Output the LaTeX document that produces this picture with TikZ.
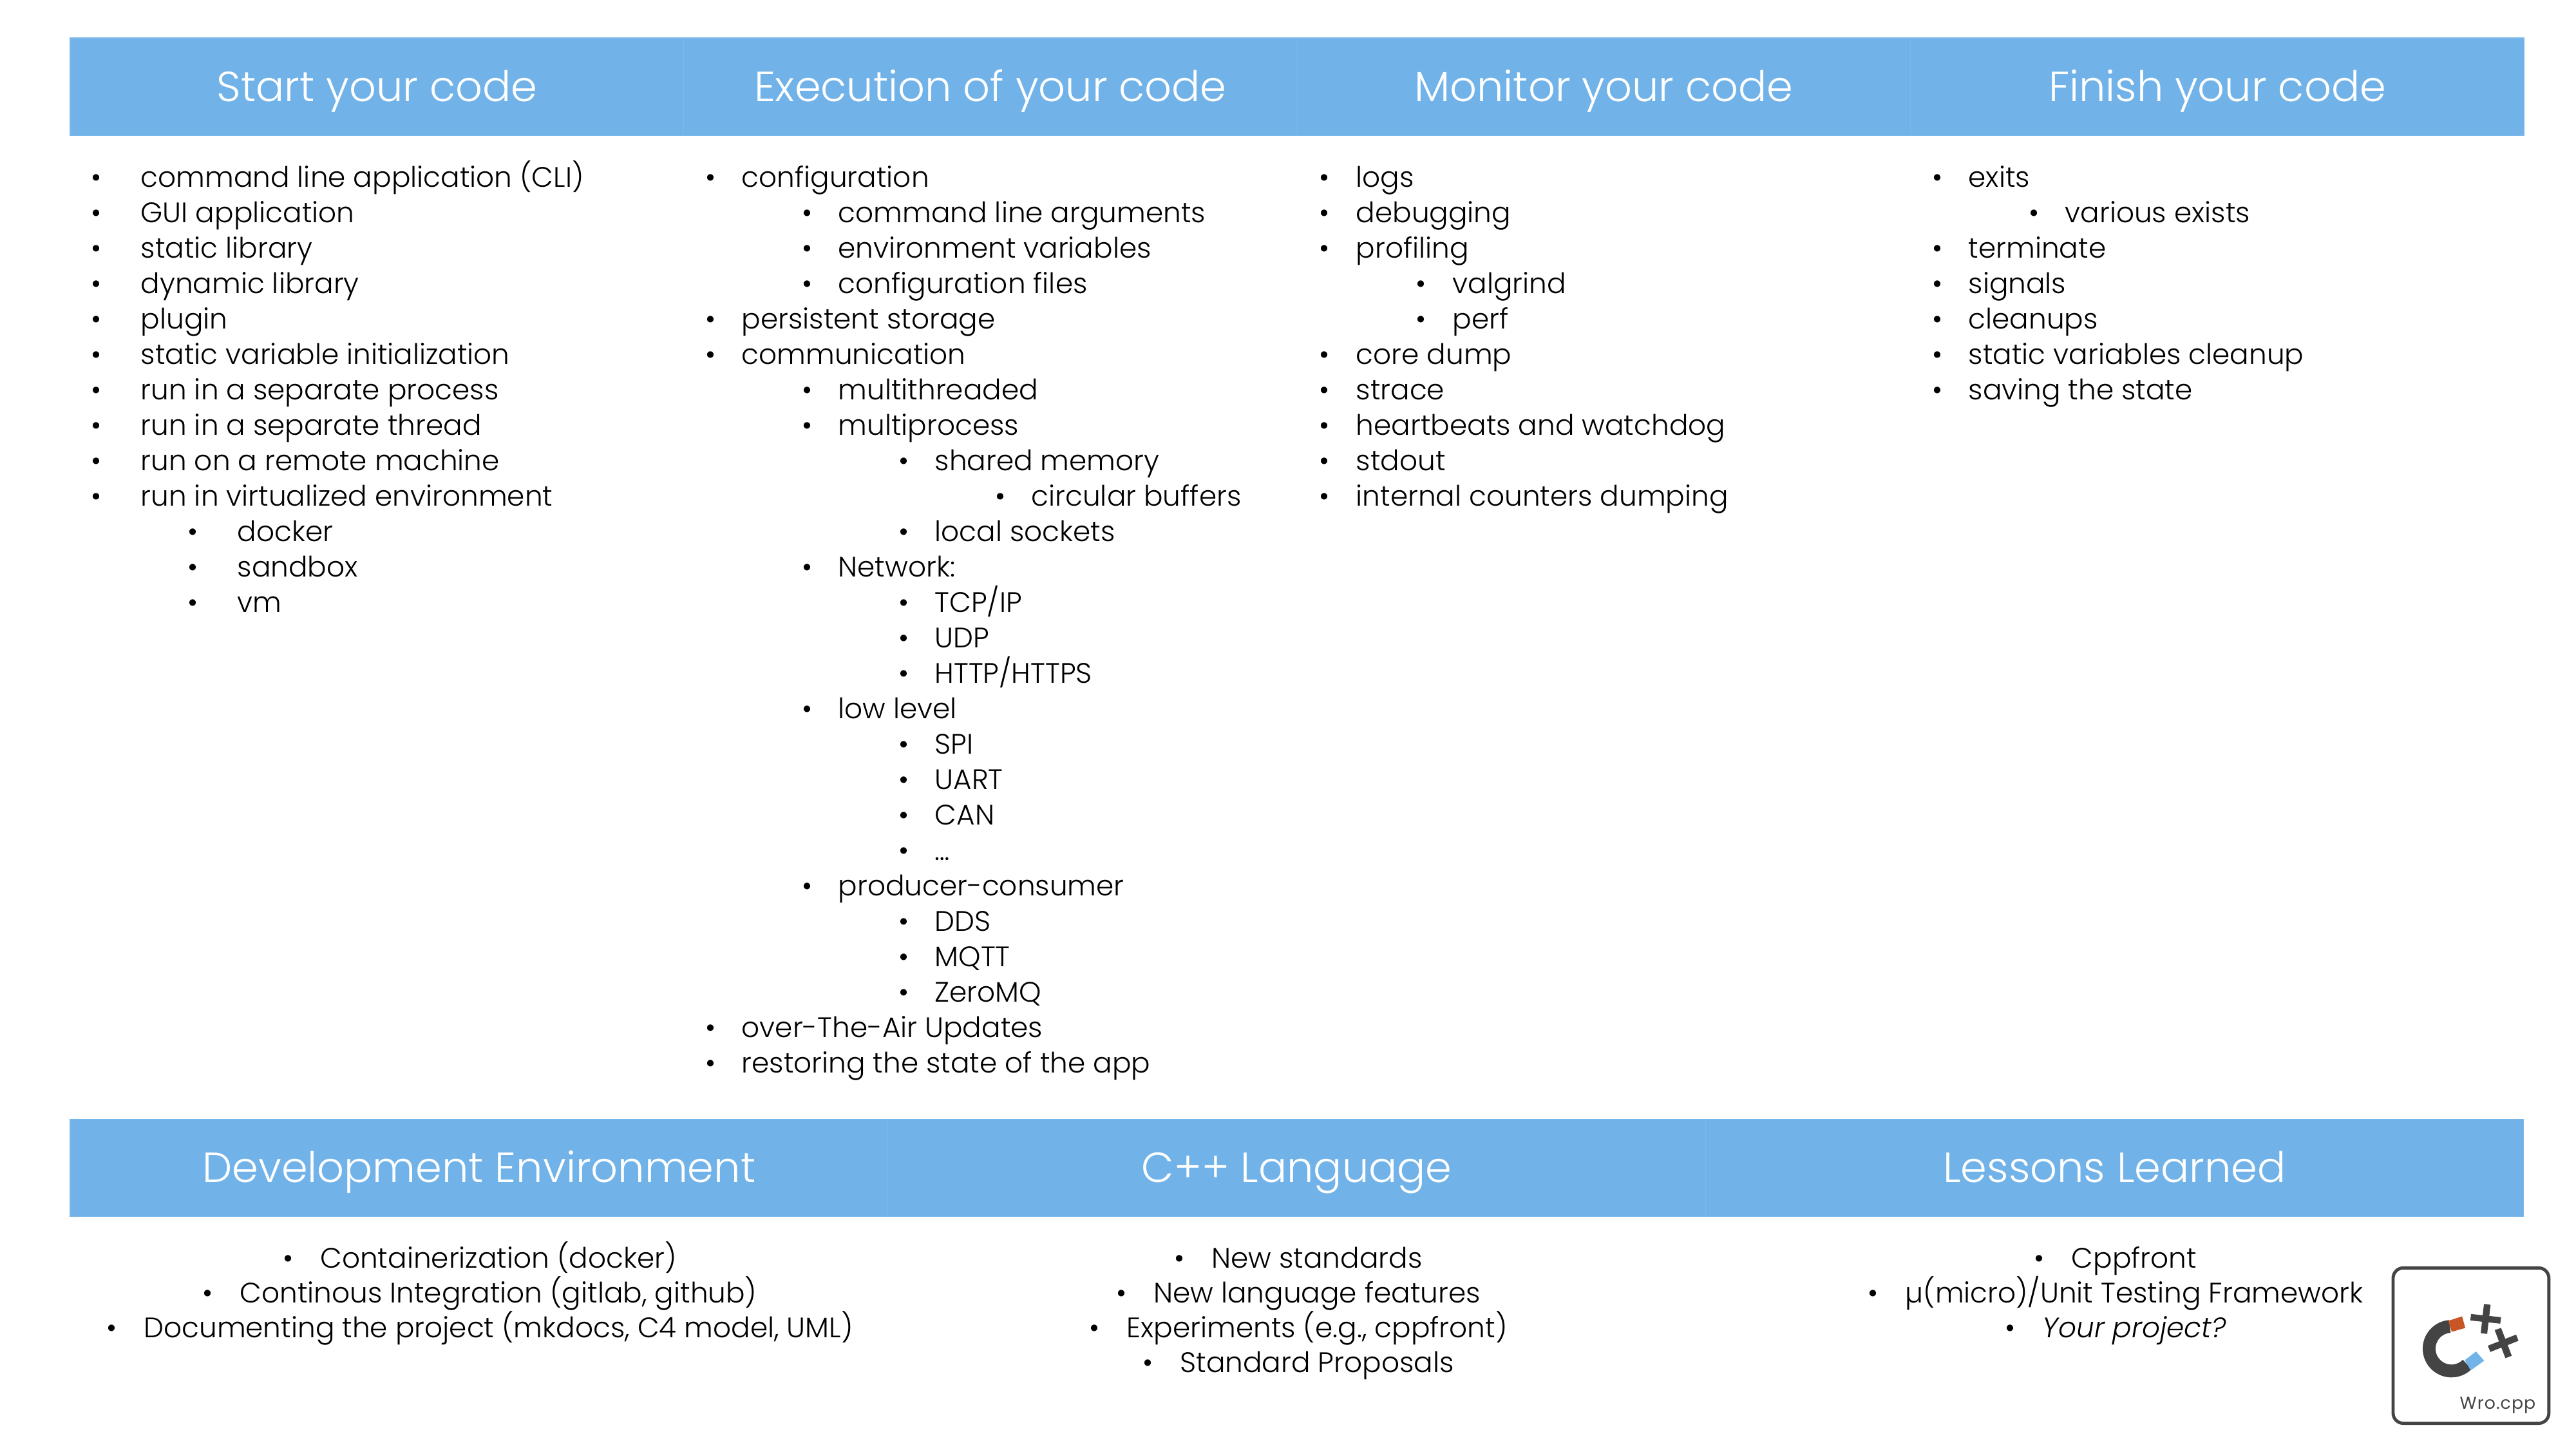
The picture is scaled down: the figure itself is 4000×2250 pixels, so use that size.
\documentclass[tikz,border=0pt]{standalone}
\usepackage{fontspec}
\setmainfont{Poppins}[UprightFont=* Light, ItalicFont=* Light Italic]
\newfontfamily\logofont{Poppins}[LetterSpace=4]
\usetikzlibrary{positioning}

\definecolor{headblue}{HTML}{71B3E8}
\definecolor{headline}{HTML}{7CB9EA}
\definecolor{logogrey}{HTML}{444444}
\definecolor{logored}{HTML}{C85524}

% one bullet and one text per row: name, bullet x, text x, first baseline, rows
\newcommand{\itemrows}[5]{
	\foreach \lvl/\txt [count=\i from 0] in {#5} {
		\node[rowtext, anchor=base] (#1 bullet \i) at ({#2+\lvl*150}, {#4+\i*55}) {•};
		\node[rowtext, anchor=base west] (#1 text \i) at ({#3+\lvl*150}, {#4+\i*55}) {\txt};
	}
}
% centred rows, bullet included: name, centre x, rows
\newcommand{\lowrows}[3]{
	\foreach \txt [count=\i from 0] in {#3} {
		\node[rowtext, anchor=base] (#1 item \i) at ({#2}, {1968+\i*54}) {•\hspace{0.42cm}\txt};
	}
}

\begin{document}
\begin{tikzpicture}[
		x=0.01cm, y=-0.01cm,
		rowtext/.style={inner sep=0pt, font=\fontsize{12.45}{15}\selectfont},
		header/.style={fill=headblue, draw=headline, line width=0.3pt, text=white, inner xsep=0pt, inner ysep=0pt, outer sep=0pt, text height=0.98cm, text depth=0.53cm, font=\fontsize{18.6}{22}\selectfont},
		topcell/.style={header, minimum width=9.52cm},
		lowcell/.style={header, minimum width=12.69cm},
		logobar/.style={fill=logogrey}
	]
		\useasboundingbox (0,0) rectangle (4000,2250);

		\node[topcell, anchor=north west] (start) at (109,59) {Start your code};
		\node[topcell, right=0pt of start] (exec) {Execution of your code};
		\node[topcell, right=0pt of exec] (monitor) {Monitor your code};
		\node[topcell, right=0pt of monitor] (finish) {Finish your code};

		\node[lowcell, anchor=north west] (dev) at (109,1737) {Development Environment};
		\node[lowcell, right=0pt of dev] (lang) {C++ Language};
		\node[lowcell, right=0pt of lang] (lessons) {Lessons Learned};

		\itemrows{start}{150}{218}{290}{
			0/command line application (CLI), 0/GUI application, 0/static library,
			0/dynamic library, 0/plugin, 0/static variable initialization,
			0/run in a separate process, 0/run in a separate thread,
			0/run on a remote machine, 0/run in virtualized environment,
			1/docker, 1/sandbox, 1/vm}
		\itemrows{exec}{1103}{1151}{290}{
			0/configuration, 1/command line arguments, 1/environment variables,
			1/configuration files, 0/persistent storage, 0/communication,
			1/multithreaded, 1/multiprocess, 2/shared memory, 3/circular buffers,
			2/local sockets, 1/Network:, 2/{TCP/IP}, 2/UDP, 2/{HTTP/HTTPS},
			1/low level, 2/SPI, 2/UART, 2/CAN, 2/…, 1/producer-consumer,
			2/DDS, 2/MQTT, 2/ZeroMQ, 0/over-The-Air Updates,
			0/restoring the state of the app}
		\itemrows{monitor}{2056}{2105}{290}{
			0/logs, 0/debugging, 0/profiling, 1/valgrind, 1/perf, 0/core dump,
			0/strace, 0/heartbeats and watchdog, 0/stdout, 0/internal counters dumping}
		\itemrows{finish}{3008}{3056}{290}{
			0/exits, 1/various exists, 0/terminate, 0/signals, 0/cleanups,
			0/static variables cleanup, 0/saving the state}

		\lowrows{dev}{745}{Containerization (docker), {Continous Integration (gitlab, github)},
			{Documenting the project (mkdocs, C4 model, UML)}}
		\lowrows{lang}{2016}{New standards, New language features,
			{Experiments (e.g., cppfront)}, Standard Proposals}
		\lowrows{lessons}{3285}{Cppfront, µ(micro)/Unit Testing Framework, \textit{Your project?}}

		% logo, in the units of a 3x crop
		\begin{scope}[shift={(3660,1940)}, x=0.003333cm, y=-0.003333cm]
			\draw[logogrey, line width=1.4pt, rounded corners=0.16cm] (168,85) rectangle (895,810);
			\draw[logogrey, line width=5.67pt] (433,358) arc[start angle=266, end angle=45, radius=104];
			\fill[logored] (425,332) -- (490,311) -- (505,365) -- (442,383) -- cycle;
			\fill[headblue] (503,515) -- (555,475) -- (593,518) -- (530,563) -- cycle;
			\fill[logobar] (532,300) -- (672,315) -- (668,345) -- (528,330) -- cycle;
			\fill[logobar] (592,253) -- (623,257) -- (607,393) -- (577,389) -- cycle;
			\fill[logobar] (610,448) -- (742,396) -- (753,425) -- (622,477) -- cycle;
			\fill[logobar] (642,375) -- (672,365) -- (722,495) -- (692,506) -- cycle;
			\node[anchor=base east, inner sep=0pt, text=logogrey, font=\logofont\fontsize{7.6}{9}\selectfont] (logo name) at (835,745) {Wro.cpp};
		\end{scope}
	\end{tikzpicture}
\end{document}
